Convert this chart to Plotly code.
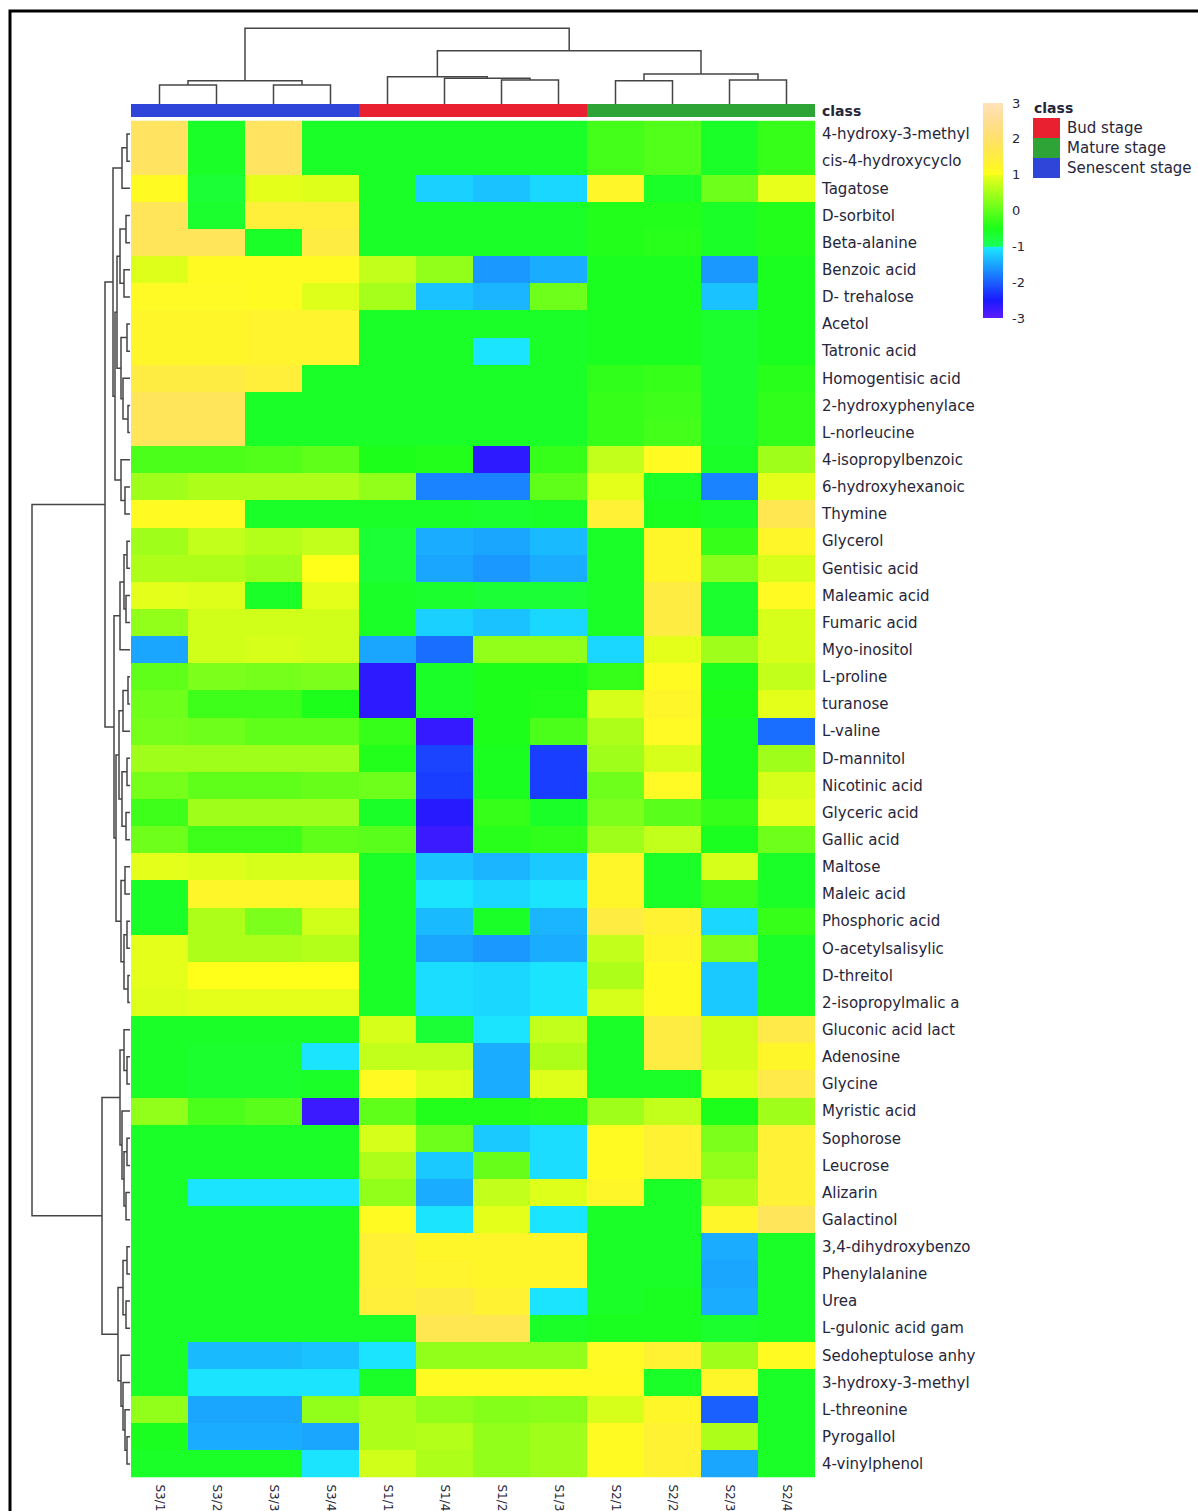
import colorsys
import numpy as np
import plotly.graph_objects as go

W, H = 1198, 1511

# ---------------------------------------------------------------- data
metabolites = [
    "4-hydroxy-3-methyl", "cis-4-hydroxycyclo", "Tagatose", "D-sorbitol",
    "Beta-alanine", "Benzoic acid", "D- trehalose", "Acetol", "Tatronic acid",
    "Homogentisic acid", "2-hydroxyphenylace", "L-norleucine",
    "4-isopropylbenzoic", "6-hydroxyhexanoic", "Thymine", "Glycerol",
    "Gentisic acid", "Maleamic acid", "Fumaric acid", "Myo-inositol",
    "L-proline", "turanose", "L-valine", "D-mannitol", "Nicotinic acid",
    "Glyceric acid", "Gallic acid", "Maltose", "Maleic acid",
    "Phosphoric acid", "O-acetylsalisylic", "D-threitol", "2-isopropylmalic a",
    "Gluconic acid lact", "Adenosine", "Glycine", "Myristic acid",
    "Sophorose", "Leucrose", "Alizarin", "Galactinol", "3,4-dihydroxybenzo",
    "Phenylalanine", "Urea", "L-gulonic acid gam", "Sedoheptulose anhy",
    "3-hydroxy-3-methyl", "L-threonine", "Pyrogallol", "4-vinylphenol",
]

samples = ["S3/1", "S3/2", "S3/3", "S3/4", "S1/1", "S1/4",
           "S1/2", "S1/3", "S2/1", "S2/2", "S2/3", "S2/4"]
sample_class = ["Senescent stage"] * 4 + ["Bud stage"] * 4 + ["Mature stage"] * 4

class_names = ["Bud stage", "Mature stage", "Senescent stage"]
class_colors = ["#E8202F", "#2EA336", "#2F45DA"]

colorbar_ticks = [-3, -2, -1, 0, 1, 2, 3]

# standardised abundance (rows = metabolites, columns = samples)
zscores = [
    [1.9, -0.6, 1.9, -0.6, -0.6, -0.6, -0.6, -0.6, -0.2, -0.1, -0.6, -0.3],
    [1.9, -0.6, 1.9, -0.6, -0.6, -0.6, -0.6, -0.6, -0.2, -0.1, -0.6, -0.3],
    [1.1, -0.7, 0.95, 0.9, -0.6, -1.2, -1.3, -1.15, 1.2, -0.6, 0.1, 0.97],
    [1.8, -0.65, 1.4, 1.4, -0.6, -0.6, -0.6, -0.6, -0.45, -0.45, -0.6, -0.45],
    [1.8, 1.8, -0.6, 1.5, -0.6, -0.6, -0.6, -0.6, -0.45, -0.4, -0.6, -0.45],
    [0.9, 1.1, 1.1, 1.1, 0.7, 0.35, -1.6, -1.45, -0.55, -0.55, -1.6, -0.55],
    [1.15, 1.15, 1.1, 0.9, 0.5, -1.3, -1.4, 0.1, -0.55, -0.55, -1.3, -0.55],
    [1.2, 1.2, 1.25, 1.25, -0.6, -0.6, -0.6, -0.6, -0.55, -0.55, -0.65, -0.55],
    [1.2, 1.2, 1.25, 1.25, -0.6, -0.6, -1.05, -0.6, -0.55, -0.55, -0.65, -0.55],
    [1.5, 1.5, 1.4, -0.6, -0.6, -0.6, -0.6, -0.6, -0.35, -0.3, -0.65, -0.4],
    [1.8, 1.8, -0.6, -0.6, -0.6, -0.6, -0.6, -0.6, -0.3, -0.25, -0.65, -0.35],
    [1.8, 1.8, -0.6, -0.6, -0.6, -0.6, -0.6, -0.6, -0.3, -0.2, -0.65, -0.35],
    [-0.15, -0.15, -0.1, 0.0, -0.5, -0.45, -2.65, -0.3, 0.7, 1.1, -0.6, 0.45],
    [0.45, 0.55, 0.55, 0.55, 0.35, -1.75, -1.75, 0.0, 0.95, -0.6, -1.75, 0.95],
    [1.1, 1.1, -0.6, -0.6, -0.6, -0.6, -0.65, -0.6, 1.35, -0.55, -0.6, 1.7],
    [0.45, 0.7, 0.6, 0.7, -0.7, -1.45, -1.5, -1.35, -0.6, 1.2, -0.3, 1.2],
    [0.55, 0.55, 0.45, 1.0, -0.7, -1.5, -1.6, -1.45, -0.6, 1.2, 0.3, 0.85],
    [0.95, 0.9, -0.6, 0.95, -0.6, -0.65, -0.7, -0.7, -0.6, 1.5, -0.65, 1.1],
    [0.35, 0.8, 0.8, 0.8, -0.6, -1.2, -1.3, -1.15, -0.6, 1.5, -0.65, 0.85],
    [-1.5, 0.8, 0.85, 0.8, -1.5, -1.9, 0.35, 0.35, -1.15, 0.95, 0.45, 0.85],
    [0.0, 0.2, 0.15, 0.2, -2.65, -0.6, -0.5, -0.5, -0.3, 1.1, -0.55, 0.7],
    [0.1, -0.25, -0.25, -0.5, -2.65, -0.6, -0.5, -0.45, 0.85, 1.2, -0.5, 0.95],
    [0.15, 0.1, 0.0, 0.0, -0.3, -2.7, -0.5, -0.15, 0.55, 1.15, -0.55, -1.9],
    [0.45, 0.45, 0.45, 0.45, -0.45, -2.2, -0.55, -2.25, 0.45, 0.85, -0.55, 0.45],
    [0.15, 0.0, 0.0, 0.05, 0.1, -2.25, -0.55, -2.25, 0.1, 1.15, -0.55, 0.85],
    [-0.25, 0.45, 0.45, 0.45, -0.6, -2.6, -0.3, -0.6, 0.2, -0.05, -0.3, 0.95],
    [0.1, -0.25, -0.25, 0.0, -0.05, -2.75, -0.4, -0.35, 0.45, 0.7, -0.55, 0.1],
    [0.95, 0.9, 0.85, 0.85, -0.6, -1.3, -1.4, -1.25, 1.2, -0.6, 0.85, -0.6],
    [-0.6, 1.2, 1.2, 1.2, -0.6, -1.05, -1.15, -1.05, 1.2, -0.6, -0.25, -0.6],
    [-0.6, 0.55, 0.2, 0.8, -0.6, -1.35, -0.6, -1.4, 1.5, 1.3, -1.15, -0.3],
    [0.95, 0.55, 0.55, 0.6, -0.6, -1.5, -1.6, -1.45, 0.7, 1.2, 0.2, -0.6],
    [0.95, 1.0, 1.0, 1.0, -0.6, -1.1, -1.15, -1.05, 0.55, 1.1, -1.25, -0.6],
    [0.9, 0.95, 0.95, 0.95, -0.6, -1.1, -1.15, -1.05, 0.85, 1.1, -1.25, -0.6],
    [-0.6, -0.6, -0.6, -0.6, 0.85, -0.7, -1.05, 0.7, -0.6, 1.5, 0.8, 1.6],
    [-0.6, -0.65, -0.65, -1.05, 0.7, 0.7, -1.45, 0.55, -0.6, 1.5, 0.8, 1.2],
    [-0.6, -0.65, -0.65, -0.6, 1.1, 0.9, -1.45, 0.9, -0.6, -0.6, 0.9, 1.6],
    [0.35, -0.15, -0.05, -2.75, 0.0, -0.45, -0.45, -0.4, 0.45, 0.7, -0.5, 0.45],
    [-0.6, -0.6, -0.6, -0.6, 0.85, 0.1, -1.25, -1.1, 1.1, 1.3, 0.2, 1.35],
    [-0.6, -0.6, -0.6, -0.6, 0.55, -1.25, 0.05, -1.1, 1.1, 1.3, 0.35, 1.35],
    [-0.6, -1.05, -1.05, -1.05, 0.35, -1.45, 0.7, 0.9, 1.2, -0.6, 0.55, 1.35],
    [-0.6, -0.6, -0.6, -0.6, 1.1, -1.05, 0.95, -1.05, -0.6, -0.6, 1.2, 1.8],
    [-0.6, -0.6, -0.6, -0.6, 1.35, 1.2, 1.2, 1.2, -0.6, -0.6, -1.45, -0.6],
    [-0.6, -0.6, -0.6, -0.6, 1.35, 1.25, 1.2, 1.2, -0.6, -0.6, -1.5, -0.6],
    [-0.6, -0.6, -0.6, -0.6, 1.4, 1.5, 1.3, -1.05, -0.6, -0.55, -1.45, -0.6],
    [-0.6, -0.6, -0.6, -0.6, -0.6, 1.7, 1.7, -0.6, -0.55, -0.55, -0.65, -0.6],
    [-0.6, -1.35, -1.35, -1.3, -1.05, 0.35, 0.35, 0.35, 1.15, 1.3, 0.45, 1.1],
    [-0.6, -1.05, -1.05, -1.05, -0.6, 1.1, 1.1, 1.1, 1.1, -0.6, 1.2, -0.6],
    [0.35, -1.5, -1.5, 0.35, 0.55, 0.35, 0.25, 0.3, 0.85, 1.2, -2.0, -0.6],
    [-0.55, -1.45, -1.45, -1.5, 0.55, 0.6, 0.35, 0.45, 1.1, 1.3, 0.55, -0.6],
    [-0.6, -0.6, -0.6, -1.05, 0.8, 0.55, 0.35, 0.45, 1.1, 1.3, -1.5, -0.6],
]

# clustering trees: (merge height, left, right); leaves are display indices
sample_tree = (75.7,
               (23.3, (19.0, 0, 1), (19.0, 2, 3)),
               (53.3,
                (27.3, 4, (25.7, 5, (24.0, 6, 7))),
                (30.0, (23.3, 8, 9), (24.0, 10, 11))))

metabolite_tree = (98.0,
    (25.0,
        (17.0,
            (8.0, (3.0, 0, 1), 2),
            (15.0,
                (13.0,
                    (10.0, (4.0, 3, 4), (6.0, 5, 6)),
                    (9.0, (3.0, 7, 8), (7.0, 9, (2.0, 10, 11)))),
                (9.0, 12, (5.0, 13, 14)))),
        (16.0,
            (10.0, (6.0, (3.0, 15, 16), (4.0, 17, 18)), 19),
            (14.0,
                (11.0, (7.0, (2.0, 20, 21), 22), (8.0, (3.0, 23, 24), (4.0, 25, 26))),
                (9.0, (5.0, 27, 28), (6.0, (3.0, 29, 30), (2.0, 31, 32)))))),
    (28.0,
        (10.0,
            (6.0, 33, (3.0, 34, 35)),
            (8.0, 36, (6.0, (3.0, 37, 38), (4.0, 39, 40)))),
        (12.0,
            (7.0, (3.0, 41, 42), (4.0, 43, 44)),
            (9.0, 45, (7.0, 46, (5.0, 47, (3.0, 48, 49)))))))

# ---------------------------------------------------------------- helpers
def topo_colors(n=256, soften=0.1):
    """R's topo.colors palette, slightly washed toward white."""
    j = n // 3
    k = n // 3
    i = n - j - k
    hsv = [(h, 1.0) for h in np.linspace(43 / 60, 31 / 60, j)]
    hsv += [(h, 1.0) for h in np.linspace(23 / 60, 11 / 60, k)]
    hsv += list(zip(np.linspace(10 / 60, 6 / 60, i), np.linspace(1.0, 0.3, i)))
    out = []
    for h, s in hsv:
        rgb = colorsys.hsv_to_rgb(h, s, 1.0)
        r, g, b = [(c * (1 - soften) + soften) * 255 for c in rgb]
        out.append("rgb(%d,%d,%d)" % (round(r), round(g), round(b)))
    return out


def palette_scale(colors):
    n = len(colors)
    return [[m / (n - 1), c] for m, c in enumerate(colors)]


def discrete_scale(colors):
    n = len(colors)
    scale = []
    for m, c in enumerate(colors):
        scale.append([m / n, c])
        scale.append([(m + 1) / n, c])
    return scale


def dendro_lines(tree):
    """Elbow segments of a dendrogram: returns leaf-axis and height coords."""
    pos, hgt = [], []

    def walk(node):
        if isinstance(node, int):
            return float(node), 0.0
        h, a, b = node
        pa, ha = walk(a)
        pb, hb = walk(b)
        pos.extend([pa, pa, pb, pb, None])
        hgt.extend([ha, h, h, hb, None])
        return (pa + pb) / 2, h

    walk(tree)
    return pos, hgt


def px_x(p):
    return p / W


def px_y(p):
    return 1 - p / H


# ---------------------------------------------------------------- layout geometry
HM_X0, HM_X1 = 131, 815
HM_Y0, HM_Y1 = 120.5, 1477.5
BAR_Y0, BAR_Y1 = 104, 117
TOP_DEN_Y0 = 24
LEFT_DEN_X0, LEFT_DEN_X1 = 24, 130

FONT = "DejaVu Sans"
TXT = "#26263a"
LINE = "#454545"

n_rows, n_cols = len(metabolites), len(samples)
fig = go.Figure()

# main heatmap
fig.add_trace(go.Heatmap(
    z=zscores, x=list(range(n_cols)), y=list(range(n_rows)),
    colorscale=palette_scale(topo_colors()), zmin=-3, zmax=3,
    xaxis="x", yaxis="y", hoverinfo="skip",
    colorbar=dict(
        x=px_x(983), xanchor="left", y=px_y(103), yanchor="top",
        len=215 / H, lenmode="fraction", thickness=20, thicknessmode="pixels",
        outlinewidth=0, xpad=0, ypad=0,
        tickvals=colorbar_ticks, ticktext=[str(t) for t in colorbar_ticks],
        ticks="outside", ticklen=7, tickcolor="rgba(0,0,0,0)",
        tickfont=dict(family=FONT, size=13, color=TXT),
    ),
))

# class annotation bar
class_code = [class_names.index(c) for c in sample_class]
fig.add_trace(go.Heatmap(
    z=[class_code], x=list(range(n_cols)), y=[0],
    colorscale=discrete_scale(class_colors), zmin=-0.5, zmax=len(class_names) - 0.5,
    showscale=False, xaxis="x2", yaxis="y2", hoverinfo="skip",
))

# class legend swatches
fig.add_trace(go.Heatmap(
    z=[[k] for k in range(len(class_names))], x=[0], y=list(range(len(class_names))),
    colorscale=discrete_scale(class_colors), zmin=-0.5, zmax=len(class_names) - 0.5,
    showscale=False, xaxis="x5", yaxis="y5", hoverinfo="skip",
))

# sample dendrogram (top)
cp, ch = dendro_lines(sample_tree)
fig.add_trace(go.Scatter(x=cp, y=ch, mode="lines", xaxis="x3", yaxis="y3",
                         line=dict(color=LINE, width=1.5), hoverinfo="skip",
                         showlegend=False))

# metabolite dendrogram (left)
rp, rh = dendro_lines(metabolite_tree)
fig.add_trace(go.Scatter(x=rh, y=rp, mode="lines", xaxis="x4", yaxis="y4",
                         line=dict(color=LINE, width=1.5), hoverinfo="skip",
                         showlegend=False))

hidden = dict(showgrid=False, zeroline=False, showline=False,
              showticklabels=False, ticks="")
col_range = [-0.5, n_cols - 0.5]
row_range = [n_rows - 0.5, -0.5]

fig.update_layout(
    width=W, height=H, margin=dict(l=0, r=0, t=0, b=0),
    paper_bgcolor="white", plot_bgcolor="white", showlegend=False,
    xaxis=dict(domain=[px_x(HM_X0), px_x(HM_X1)], range=col_range,
               tickvals=list(range(n_cols)), ticktext=samples, tickangle=90,
               showgrid=False, zeroline=False, showline=False, ticks="",
               ticklabelstandoff=6,
               tickfont=dict(family=FONT, size=12, color=TXT)),
    yaxis=dict(domain=[px_y(HM_Y1), px_y(HM_Y0)], range=row_range, side="right",
               tickvals=list(range(n_rows)), ticktext=metabolites,
               showgrid=False, zeroline=False, showline=False, ticks="",
               ticklabelstandoff=6,
               tickfont=dict(family=FONT, size=15, color=TXT)),
    xaxis2=dict(domain=[px_x(HM_X0), px_x(HM_X1)], range=col_range, anchor="y2", **hidden),
    yaxis2=dict(domain=[px_y(BAR_Y1), px_y(BAR_Y0)], range=[-0.5, 0.5], anchor="x2", **hidden),
    xaxis3=dict(domain=[px_x(HM_X0), px_x(HM_X1)], range=col_range, anchor="y3", **hidden),
    yaxis3=dict(domain=[px_y(BAR_Y0), px_y(TOP_DEN_Y0)], range=[0, BAR_Y0 - TOP_DEN_Y0],
                anchor="x3", **hidden),
    xaxis4=dict(domain=[px_x(LEFT_DEN_X0), px_x(LEFT_DEN_X1)],
                range=[LEFT_DEN_X1 - LEFT_DEN_X0, 0], anchor="y4", **hidden),
    yaxis4=dict(domain=[px_y(HM_Y1), px_y(HM_Y0)], range=row_range, anchor="x4", **hidden),
    xaxis5=dict(domain=[px_x(1033), px_x(1060)], range=[-0.5, 0.5], anchor="y5", **hidden),
    yaxis5=dict(domain=[px_y(178), px_y(118)], range=[len(class_names) - 0.5, -0.5],
                anchor="x5", side="right", showgrid=False, zeroline=False,
                showline=False, ticks="", tickvals=list(range(len(class_names))),
                ticktext=class_names, ticklabelstandoff=6,
                tickfont=dict(family=FONT, size=15, color=TXT)),
    annotations=[
        dict(text="<b>class</b>", x=px_x(820), y=px_y(111), xref="paper", yref="paper",
             xanchor="left", yanchor="middle", showarrow=False,
             font=dict(family=FONT, size=14, color=TXT)),
        dict(text="<b>class</b>", x=px_x(1032), y=px_y(108), xref="paper", yref="paper",
             xanchor="left", yanchor="middle", showarrow=False,
             font=dict(family=FONT, size=14, color=TXT)),
    ],
    shapes=[
        dict(type="rect", xref="paper", yref="paper",
             x0=px_x(10), y0=px_y(11), x1=1.05, y1=-0.05,
             line=dict(color="black", width=3), fillcolor="rgba(0,0,0,0)"),
    ],
)

fig.write_html("out.html")
